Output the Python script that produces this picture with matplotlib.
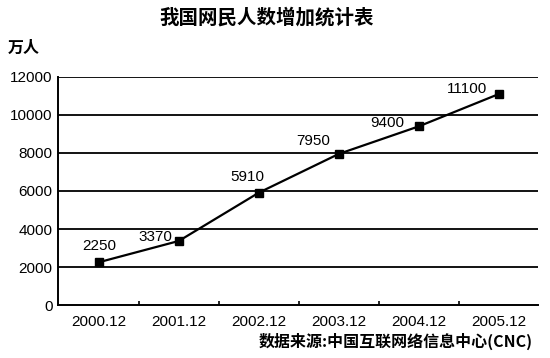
import matplotlib
matplotlib.use('Agg')
import matplotlib.pyplot as plt

plt.rcParams['font.family'] = ['Liberation Sans', 'Noto Sans CJK SC', 'DejaVu Sans']

# 数据
years = ['2000.12', '2001.12', '2002.12', '2003.12', '2004.12', '2005.12']
users = [2250, 3370, 5910, 7950, 9400, 11100]
label_offsets = [(0, 16), (-23, 4), (-11, 16), (-26, 13), (-31, 3), (-32, 5)]
y_ticks = [0, 2000, 4000, 6000, 8000, 10000, 12000]

fig = plt.figure(figsize=(5.5, 3.58), dpi=100)
ax = fig.add_axes([0.1055, 0.148, 0.8725, 0.637])

x = list(range(len(years)))
for t in y_ticks[1:]:
    ax.axhline(t, color='black', lw=1.3, zorder=1)
ax.plot(x, users, color='black', lw=1.6, marker='s', ms=5.5, zorder=3)

for i, v in enumerate(users):
    ax.annotate(str(v), (x[i], v), xytext=label_offsets[i], textcoords='offset pixels',
                ha='center', va='center', fontsize=11)

ax.set_xlim(-0.51, 5.49)
ax.set_ylim(0, 12000)
ax.set_xticks(x)
ax.set_xticklabels(years, fontsize=11)
ax.set_xticks([i + 0.5 for i in range(5)], minor=True)
ax.set_yticks(y_ticks)
ax.set_yticklabels([str(t) for t in y_ticks], fontsize=11)
ax.tick_params(axis='x', which='major', length=0, pad=7)
ax.tick_params(axis='x', which='minor', direction='in', length=3, width=1.2)
ax.tick_params(axis='y', length=0, pad=4)
for s in ['top', 'right']:
    ax.spines[s].set_visible(False)
for s in ['left', 'bottom']:
    ax.spines[s].set_linewidth(1.4)

fig.text(0.485, 0.95, '我国网民人数增加统计表', ha='center', va='center',
         fontsize=14, fontweight='bold', family=['Noto Sans CJK SC'])
fig.text(0.015, 0.866, '万人', ha='left', va='center', fontsize=11.5,
         fontweight='bold', family=['Noto Sans CJK SC'])
fig.text(0.969, 0.045, '数据来源:中国互联网络信息中心(CNC)', ha='right', va='center',
         fontsize=11.5, fontweight='bold', family=['Noto Sans CJK SC', 'DejaVu Sans'])

fig.savefig('out.png', dpi=100)
